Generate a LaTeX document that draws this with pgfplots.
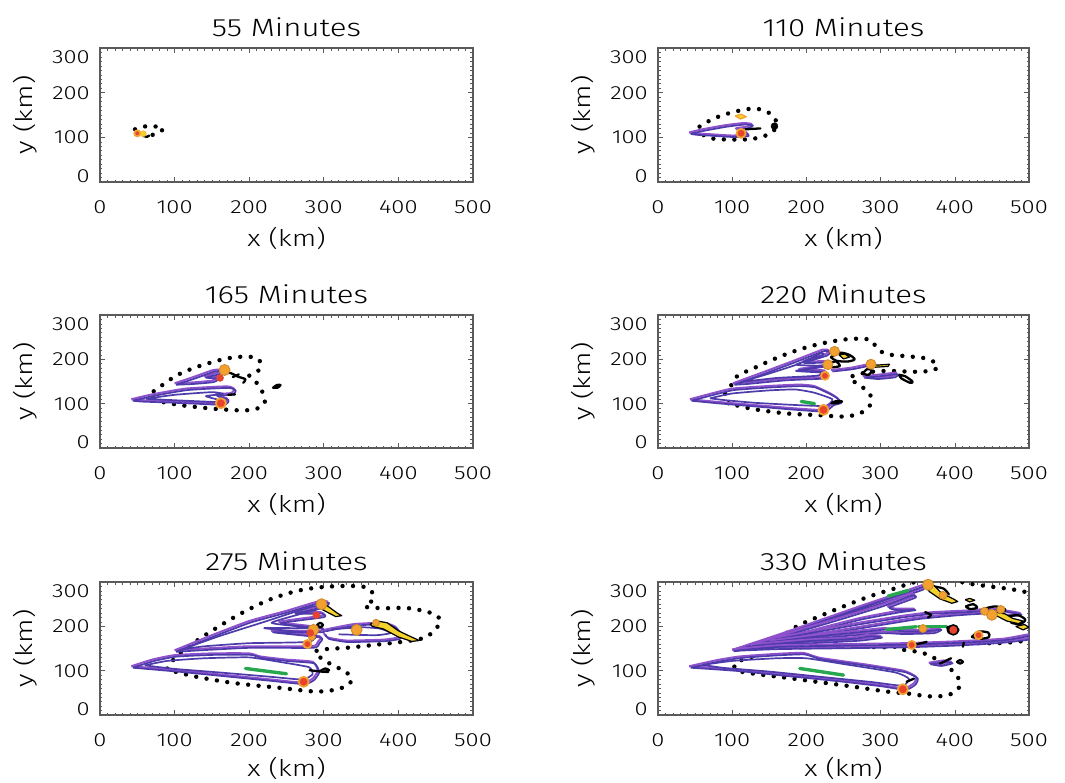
\documentclass[border=0pt]{standalone}
\usepackage{pgfplots}
\pgfplotsset{compat=1.18}
\usepackage{fontspec}
\setmainfont{Fira Sans}[UprightFont={* Light}, FakeStretch=1.25]

\definecolor{vioL}{HTML}{8F52CC}
\definecolor{vioD}{HTML}{4D3AAB}
\definecolor{redC}{HTML}{E8432B}
\definecolor{orC}{HTML}{F2A030}
\definecolor{yelC}{HTML}{F3D22B}
\definecolor{grnC}{HTML}{27A84E}
\definecolor{frameC}{HTML}{5A5A5A}

\pgfplotsset{
  panel/.style={
    scale only axis, anchor=north west,
    xmin=0, xmax=500, ymin=0, ymax=300,
    xtick={0,100,200,300,400,500}, xticklabels={0,100,200,300,400,500},
    ytick={0,100,200,300},
    yticklabels={\raisebox{6pt}{0},100,200,\raisebox{-9pt}{300}},
    minor x tick num=9, minor y tick num=9,
    tick align=inside, major tick length=5pt, minor tick length=2.5pt,
    tick style={frameC, line width=0.6pt},
    axis line style={frameC, line width=1.3pt},
    xticklabel style={anchor=base, inner sep=0pt, yshift=-31.5pt, font=\fontsize{19}{22}\selectfont},
    yticklabel style={anchor=base east, inner sep=0pt, xshift=-10pt, yshift=-6.6pt, font=\fontsize{19}{22}\selectfont},
    every axis title/.style={at={(0.5,1)}, anchor=base, yshift=12pt, font=\fontsize{25}{30}\selectfont},
    xlabel={x (km)}, ylabel={y (km)},
    every axis x label/.style={at={(0.5,0)}, anchor=center, yshift=-56pt, font=\fontsize{23}{26}\selectfont},
    every axis y label/.style={at={(0,0.5)}, xshift=-75pt, rotate=90, anchor=center, font=\fontsize{23}{26}\selectfont},
  },
  dotC/.style={black, line width=4.4pt, line cap=round, dash pattern=on 0pt off 10.5pt, smooth, tension=0.55},
  pl/.style={draw=vioL, line width=2pt, line join=round, smooth, tension=0.3},
  pd/.style={draw=vioD, line width=1.7pt, line join=round, smooth, tension=0.3},
  blk/.style={black, line width=2.3pt, line cap=round, line join=round},
  grn/.style={grnC, line width=3.4pt, line cap=round},
  ring/.style={only marks, mark=*, mark options={fill=redC, draw=orC, line width=1.8pt}},
  orb/.style={only marks, mark=*, mark options={fill=orC, draw=orC!85!black, line width=0.8pt}},
  rdot/.style={only marks, mark=*, mark options={fill=redC, draw=redC}},
  kdot/.style={only marks, mark=*, mark options={fill=black, draw=black}},
  yb/.style={fill=yelC, draw=black, line width=1.2pt, line join=round},
}

% one contour drawn as a pair of neighbouring purple levels
\newcommand\fan[1]{%
  \addplot[pl] coordinates {#1};
  \addplot[pd, xshift=1.5pt, yshift=-1.5pt] coordinates {#1};
}

\begin{document}
\begin{tikzpicture}
\path[use as bounding box] (0,0) rectangle (1065pt,-782pt);

% ---------------- 55 minutes ----------------
\begin{axis}[panel, at={(100pt,-48pt)}, width=373pt, height=134pt, title={55 Minutes}]
\addplot[dotC] coordinates {(47,118)(55,123)(65,125)(76,124)(85,120)(80,112)(72,106)(64,104)};
\addplot[blk] coordinates {(58,103)(63,101)(66,104)};
\addplot[ring, mark size=3pt] coordinates {(50,109)};
\addplot[only marks, mark=*, mark size=3pt, mark options={fill=yelC, draw=orC}] coordinates {(58,108)};
\end{axis}

% ---------------- 110 minutes ----------------
\begin{axis}[panel, at={(658pt,-48pt)}, width=371pt, height=134pt, title={110 Minutes}]
\addplot[dotC] coordinates {(56,124)(75,142)(100,156)(125,164)(142,161)(154,149)(160,133)(157,117)(145,104)(125,96)(100,95)(75,97)(62,104)(56,122)};
\fan{(42,111)(60,118)(90,127)(115,132)(126,130)(120,124)(105,120)(118,112)(120,106)(100,104)(70,107)(50,109)(42,111)}
\addplot[blk] coordinates {(118,118)(138,120)};
\addplot[kdot, mark size=3.5pt] coordinates {(157,125)};
\addplot[yb, draw=orC] coordinates {(104,148)(112,152)(119,146)(111,141)(104,148)};
\addplot[ring, mark size=4.5pt] coordinates {(112,109)};
\end{axis}

% ---------------- 165 minutes ----------------
\begin{axis}[panel, at={(100pt,-315pt)}, width=373pt, height=133pt, title={165 Minutes}]
\addplot[dotC] coordinates {(72,128)(87,146)(103,164)(125,180)(147,192)(170,202)(192,206)(210,203)(216,188)(212,174)(200,163)(210,147)(219,122)(221,104)(214,91)(196,85)(174,86)(143,90)(103,98)(74,109)(72,126)};
\fan{(100,146)(125,160)(150,175)(160,177)(158,170)(140,162)(158,160)(150,152)(125,148)(100,146)}
\fan{(42,110)(70,121)(115,134)(170,139)(180,133)(176,124)(155,121)(170,112)(166,101)(130,103)(90,106)(55,108)(42,110)}
\addplot[pd] coordinates {(62,111)(100,120)(150,126)(165,122)(142,117)(160,108)(154,104)(110,107)(72,110)(62,111)};
\addplot[blk, smooth] coordinates {(166,170)(175,169)(185,161)(195,155)(192,147)};
\addplot[blk] coordinates {(178,160)(186,166)};
\addplot[blk] coordinates {(172,120)(181,121)};
\addplot[blk, smooth] coordinates {(232,136)(237,142)(242,142)(238,136)(232,136)};
\addplot[orb, mark size=5.5pt] coordinates {(167,176)};
\addplot[rdot, mark size=3.5pt] coordinates {(161,158)};
\addplot[ring, mark size=5pt] coordinates {(162,101)};
\end{axis}

% ---------------- 220 minutes ----------------
\begin{axis}[panel, at={(658pt,-315pt)}, width=371pt, height=133pt, title={220 Minutes}]
\addplot[dotC] coordinates {(95,101)(90,120)(97,136)(106,161)(133,183)(164,206)(196,225)(227,238)(259,246)(286,244)(295,225)(308,212)(335,207)(358,203)(376,190)(372,176)(348,172)(308,174)(280,170)(258,158)(272,142)(286,120)(286,97)(272,78)(250,71)(218,74)(173,78)(128,88)(97,100)};
\fan{(101,146)(140,170)(180,195)(222,222)(230,220)(226,212)(195,195)(224,196)(226,188)(190,178)(224,175)(226,166)(222,160)(170,156)(120,148)(101,146)}
\addplot[pd] coordinates {(112,149)(150,168)(190,190)(220,214)(222,209)(186,188)(221,185)(186,174)(221,170)(214,163)(160,158)(112,149)};
\fan{(233,176)(260,181)(281,188)(292,186)}
\fan{(276,162)(300,166)(321,170)(318,163)(295,159)(276,162)}
\fan{(43,110)(70,122)(100,134)(150,140)(190,143)(210,140)(230,125)(240,115)(245,105)(235,100)(226,88)(215,86)(180,90)(130,97)(80,104)(55,108)(43,110)}
\addplot[pd] coordinates {(70,112)(100,123)(150,130)(185,132)(210,125)(235,110)(226,95)(185,97)(130,102)(90,108)(70,112)};
\addplot[grn] coordinates {(193,105)(211,100)};
\addplot[blk, smooth] coordinates {(234,101)(240,106)(248,105)(240,101)(234,101)};
\addplot[blk, smooth] coordinates {(233,205)(245,215)(258,210)(265,200)(255,195)(240,197)(233,205)};
\addplot[blk, smooth] coordinates {(232,192)(240,195)(245,185)(235,182)};
\addplot[blk, smooth] coordinates {(276,168)(282,178)(288,175)(284,165)(276,168)};
\addplot[blk, smooth] coordinates {(325,165)(333,162)(343,150)(340,147)(328,157)(325,165)};
\addplot[yb] coordinates {(244,210)(252,212)(258,205)(250,201)(244,210)};
\addplot[yb] coordinates {(285,190)(295,187)(312,189)(310,184)(290,182)(285,190)};
\addplot[orb, mark size=5pt] coordinates {(238,218)(229,188)(287,189)};
\addplot[ring, mark size=4pt] coordinates {(225,163)};
\addplot[ring, mark size=5pt] coordinates {(223,86)};
\end{axis}

% ---------------- 275 minutes ----------------
\begin{axis}[panel, at={(100pt,-582pt)}, width=373pt, height=133pt, title={275 Minutes}, xlabel style={yshift=3pt}]
\addplot[dotC] coordinates {(90,105)(94,117)(116,151)(150,190)(190,230)(230,262)(270,282)(310,290)(351,290)(364,279)(366,260)(355,245)(378,241)(413,241)(444,230)(456,215)(451,196)(436,175)(409,166)(378,160)(333,152)(300,148)(288,140)(310,114)(328,99)(337,83)(333,68)(315,57)(288,53)(243,61)(180,72)(130,86)(100,98)};
\fan{(100,146)(150,180)(200,212)(250,235)(290,255)(305,256)(300,248)(260,232)(296,232)(298,224)(240,210)(295,198)(296,190)(230,190)(294,178)(292,165)(284,155)(200,155)(140,150)(100,146)}
\addplot[pd] coordinates {(110,148)(160,178)(220,210)(285,245)(295,240)(230,208)(290,196)(220,196)(288,183)(280,165)(200,162)(140,155)(110,148)};
\fan{(300,192)(340,205)(380,208)(395,200)(402,185)(400,175)(380,170)(330,168)(305,175)(300,185)}
\addplot[pd] coordinates {(310,193)(350,198)(375,195)(390,185)(370,180)(320,182)};
\fan{(42,110)(70,125)(100,135)(150,139)(200,139)(215,132)(250,125)(285,120)(292,100)(285,82)(272,73)(230,80)(170,90)(110,100)(70,106)(42,110)}
\addplot[pd] coordinates {(60,112)(90,122)(140,128)(200,130)(240,120)(280,108)(285,92)(272,80)(230,86)(160,96)(100,104)(60,112)};
\addplot[grn] coordinates {(195,105)(250,93)};
\addplot[blk] coordinates {(281,101)(296,98)(306,97)};
\addplot[blk, smooth] coordinates {(296,100)(302,105)(307,101)(300,97)};
\addplot[blk, smooth] coordinates {(291,203)(295,208)(299,203)(295,198)(291,203)};
\addplot[yb] coordinates {(294,250)(305,246)(318,230)(324,224)(316,222)(300,236)(292,244)(294,250)};
\addplot[yb] coordinates {(362,205)(372,212)(385,208)(400,190)(415,178)(428,168)(418,166)(400,176)(380,194)(365,200)(362,205)};
\addplot[orb, mark size=5.5pt] coordinates {(297,250)(286,192)(344,192)};
\addplot[orb, mark size=3.5pt] coordinates {(284,176)(370,208)};
\addplot[rdot, mark size=3.5pt] coordinates {(290,225)(282,185)};
\addplot[ring, mark size=4pt] coordinates {(278,160)};
\addplot[ring, mark size=5pt] coordinates {(273,75)};
\end{axis}

% ---------------- 330 minutes ----------------
\begin{axis}[panel, at={(658pt,-582pt)}, width=371pt, height=133pt, title={330 Minutes}, xlabel style={yshift=3pt}]
\addplot[dotC] coordinates {(150,160)(164,174)(187,200)(218,223)(250,245)(286,268)(322,287)(342,298)(360,304)};
\addplot[dotC] coordinates {(410,300)(420,296)(447,290)(479,283)(502,275)};
\addplot[dotC] coordinates {(502,174)(488,166)(456,162)(420,162)(357,159)(308,153)(263,155)(218,155)(173,152)(150,160)};
\addplot[dotC] coordinates {(126,131)(105,118)(106,101)(130,93)(173,84)(218,74)(263,64)(308,53)(339,48)(367,42)(393,46)(407,66)(402,91)(389,110)(376,125)(357,140)(331,147)};
\fan{(100,147)(160,180)(220,215)(280,250)(330,278)(358,294)(355,286)(320,266)(270,240)(210,206)(150,174)(110,150)(100,147)}
\fan{(125,158)(190,192)(250,222)(300,248)(340,273)(345,268)(310,246)(320,240)(345,240)(320,234)(270,218)(200,188)(140,162)(125,158)}
\fan{(150,172)(210,190)(270,208)(330,224)(370,232)(420,236)(450,240)(488,230)(470,226)(440,232)(400,228)(350,220)(290,204)(220,185)(160,172)(150,172)}
\fan{(150,168)(220,182)(280,192)(304,196)(330,192)(358,192)(380,196)(370,188)(330,186)(300,188)(240,180)(170,170)(150,168)}
\fan{(130,160)(200,170)(260,175)(284,181)(300,178)(270,171)(200,165)(130,160)}
\fan{(100,148)(160,157)(250,160)(331,162)(400,166)(465,172)(500,182)(500,174)(460,166)(400,160)(331,156)(250,154)(160,152)(100,148)}
\fan{(42,110)(80,124)(110,132)(160,138)(196,140)(218,129)(280,114)(331,100)(348,86)(345,72)(332,60)(300,68)(250,78)(180,90)(110,102)(70,107)(42,110)}
\addplot[pd] coordinates {(60,113)(100,122)(160,128)(200,128)(250,115)(320,96)(338,82)(330,66)(290,74)(220,86)(150,98)(90,106)(60,113)};
\fan{(365,118)(385,123)(395,120)(380,114)(365,118)}
\addplot[grn] coordinates {(191,105)(250,90)};
\addplot[grn] coordinates {(310,268)(337,281)};
\addplot[grn] coordinates {(308,193)(348,199)};
\addplot[grn] coordinates {(351,199)(389,199)};
\addplot[blk] coordinates {(335,75)(345,82)};
\addplot[blk] coordinates {(345,158)(362,165)};
\addplot[blk] coordinates {(380,116)(395,128)};
\addplot[blk, smooth] coordinates {(403,120)(407,124)(411,120)(407,116)(403,120)};
\addplot[blk] coordinates {(411,154)(412,163)};
\addplot[blk, smooth] coordinates {(415,245)(425,250)(430,242)(420,239)(415,245)};
\addplot[blk, smooth] coordinates {(360,232)(368,226)(364,220)};
\addplot[blk, smooth] coordinates {(372,290)(385,285)(392,272)};
\addplot[blk, smooth] coordinates {(390,198)(398,200)(405,192)(400,184)(392,186)(390,198)};
\addplot[blk, smooth] coordinates {(423,176)(432,188)(445,186)(446,176)(436,172)(423,176)};
\addplot[blk, smooth] coordinates {(440,240)(455,245)(468,238)(462,230)};
\addplot[blk, smooth] coordinates {(470,222)(485,225)(495,215)(488,205)(476,208)};
\addplot[yb] coordinates {(362,296)(372,292)(382,275)(398,262)(404,256)(396,252)(380,262)(366,278)(360,290)(362,296)};
\addplot[yb] coordinates {(414,260)(420,263)(427,259)(420,255)(414,260)};
\addplot[yb] coordinates {(455,232)(468,228)(478,218)(492,212)(486,206)(470,212)(456,224)(455,232)};
\addplot[yb] coordinates {(482,200)(494,204)(500,198)(492,192)(482,200)};
\addplot[orb, mark size=5.5pt] coordinates {(364,294)(450,226)};
\addplot[orb, mark size=4pt] coordinates {(357,195)(462,238)(384,270)(440,234)};
\addplot[ring, mark size=4pt] coordinates {(342,158)(432,180)};
\addplot[only marks, mark=*, mark size=5pt, mark options={fill=redC, draw=black, line width=1.5pt}] coordinates {(398,192)};
\addplot[ring, mark size=5pt] coordinates {(330,58)};
\end{axis}
\end{tikzpicture}
\end{document}
